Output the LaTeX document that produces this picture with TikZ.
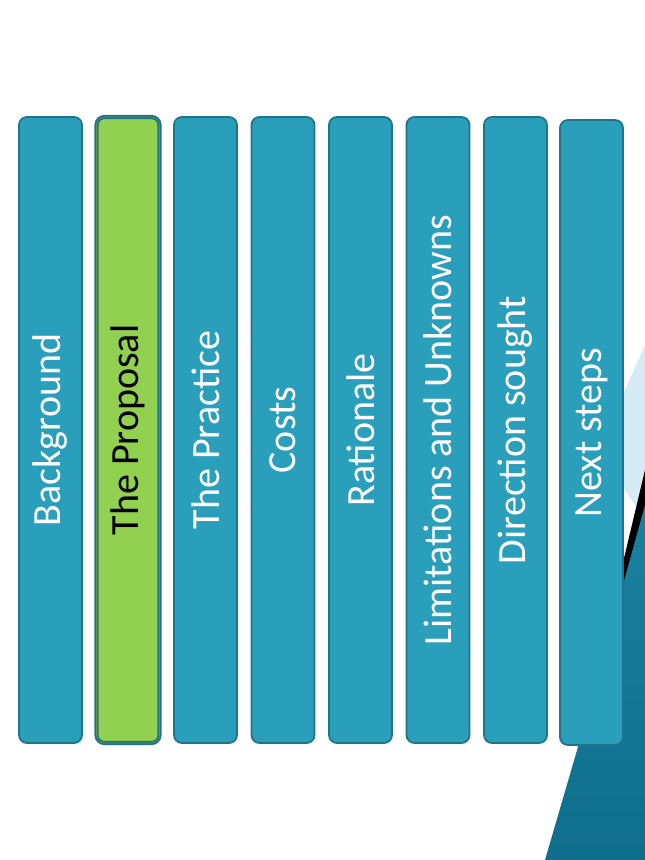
\documentclass[tikz,border=0pt]{standalone}
\usepackage{fontspec}
\setmainfont{Carlito}
\definecolor{tb}{HTML}{2A9FBC}
\definecolor{tbd}{HTML}{1E7489}
\definecolor{gr}{HTML}{92D050}
\definecolor{lb}{HTML}{D6EBF5}
\definecolor{db}{HTML}{0E6E8C}
\begin{document}
\begin{tikzpicture}[x=1pt,y=-1pt,
  bar/.style={draw=tbd,line width=1.8pt,fill=tb,rounded corners=8pt},
  lab/.style={rotate=90,font=\fontsize{40}{40}\selectfont,text=white,anchor=center}]
\useasboundingbox (0,0) rectangle (645,860);
% decoration
\fill[lb] (645,345) -- (645,520) -- (598,450) -- cycle;
\fill[black] (645,470) -- (645,520) -- (580,760) -- (576,760) -- cycle;
\shade[top color=db!60!tb,bottom color=db] (645,505) -- (645,860) -- (545,860) -- (580,740) -- cycle;
% bars
\foreach \i/\t in {0/Background,2/The Practice,3/Costs,4/Rationale,5/Limitations and Unknowns,6/Direction sought}{
  \node[bar,minimum width=63pt,minimum height=626pt,inner sep=0pt] (b\i) at (50.5+77.5*\i,430) {};
  \node[lab] (t\i) at (b\i) {\t};
}
\node[bar,fill=gr,minimum width=63pt,minimum height=626pt,inner sep=0pt,double=gr!70!black] (b1) at (128,430) {};
\node[lab,text=black] (t1) at (b1) {The Proposal};
\node[bar,minimum width=63pt,minimum height=625pt,inner sep=0pt] (b7) at (591.5,432.5) {};
\node[lab] (t7) at (b7) {Next steps};
\end{tikzpicture}
\end{document}
